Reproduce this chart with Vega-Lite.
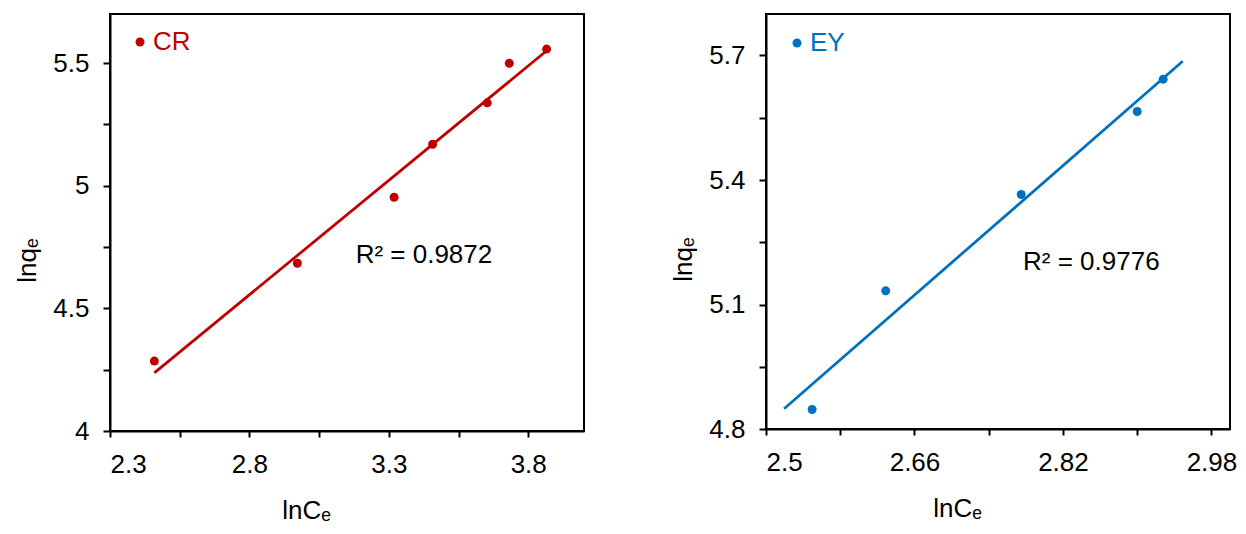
{
  "$schema": "https://vega.github.io/schema/vega-lite/v6.json",
  "background": "white",
  "padding": {"left": 13, "top": 13, "right": 5, "bottom": 5},
  "config": {
    "font": "Liberation Sans",
    "view": {"stroke": "black", "strokeWidth": 2},
    "axis": {
      "grid": false,
      "domainColor": "black",
      "domainWidth": 2,
      "tickColor": "black",
      "tickWidth": 2,
      "labelFont": "Liberation Sans",
      "labelFontSize": 26,
      "labelColor": "black",
      "titleFont": "Liberation Sans",
      "titleFontSize": 26,
      "titleFontWeight": "normal",
      "titleColor": "black"
    }
  },
  "datasets": {
    "cr": [
      {"x": 2.459, "y": 4.285, "series": "CR"},
      {"x": 2.972, "y": 4.684, "series": "CR"},
      {"x": 3.319, "y": 4.953, "series": "CR"},
      {"x": 3.457, "y": 5.169, "series": "CR"},
      {"x": 3.653, "y": 5.338, "series": "CR"},
      {"x": 3.732, "y": 5.499, "series": "CR"},
      {"x": 3.866, "y": 5.557, "series": "CR"}
    ],
    "crFit": [
      {"x": 2.459, "y": 4.237},
      {"x": 3.866, "y": 5.550}
    ],
    "crLabel": [
      {"x": 3.181, "y": 4.717, "label": "R² = 0.9872"}
    ],
    "ey": [
      {"x": 2.5497, "y": 4.847, "series": "EY"},
      {"x": 2.629, "y": 5.133, "series": "EY"},
      {"x": 2.775, "y": 5.365, "series": "EY"},
      {"x": 2.900, "y": 5.565, "series": "EY"},
      {"x": 2.928, "y": 5.643, "series": "EY"}
    ],
    "eyFit": [
      {"x": 2.5195, "y": 4.849},
      {"x": 2.949, "y": 5.686}
    ],
    "eyLabel": [
      {"x": 2.777, "y": 5.2025, "label": "R² = 0.9776"}
    ]
  },
  "hconcat": [
    {
      "width": 474,
      "height": 417,
      "encoding": {
        "x": {
          "field": "x", "type": "quantitative",
          "scale": {"domain": [2.3, 4.0], "nice": false, "zero": false},
          "axis": {
            "title": "lnCₑ",
            "values": [2.3, 2.55, 2.8, 3.05, 3.3, 3.55, 3.8],
            "labelExpr": "indexof([2.3, 2.8, 3.3, 3.8], datum.value) >= 0 ? format(datum.value, '~g') : ''",
            "tickSize": 6, "labelPadding": 14, "titlePadding": 20, "titleX": 196
          }
        },
        "y": {
          "field": "y", "type": "quantitative",
          "scale": {"domain": [4, 5.7], "nice": false, "zero": false},
          "axis": {
            "title": "lnqₑ",
            "values": [4, 4.25, 4.5, 4.75, 5, 5.25, 5.5],
            "labelExpr": "indexof([4, 4.5, 5, 5.5], datum.value) >= 0 ? format(datum.value, '~g') : ''",
            "tickSize": 7, "labelPadding": 14, "titlePadding": 12, "titleY": 246
          }
        }
      },
      "layer": [
        {
          "data": {"name": "crFit"},
          "mark": {"type": "line", "color": "#c00000", "strokeWidth": 2.75}
        },
        {
          "data": {"name": "cr"},
          "mark": {"type": "point", "filled": true, "size": 80, "opacity": 1},
          "encoding": {
            "color": {
              "field": "series", "type": "nominal",
              "scale": {"domain": ["CR"], "range": ["#c00000"]},
              "legend": {
                "title": null, "orient": "none", "legendX": 17, "legendY": 15,
                "labelFontSize": 26, "labelColor": "#c00000", "labelFont": "Liberation Sans",
                "symbolSize": 80, "labelOffset": 0, "padding": 0, "symbolStrokeWidth": 0
              }
            }
          }
        },
        {
          "data": {"name": "crLabel"},
          "mark": {"type": "text", "align": "left", "baseline": "middle", "fontSize": 26, "color": "black"},
          "encoding": {"text": {"field": "label"}}
        }
      ]
    },
    {
      "width": 464,
      "height": 415,
      "encoding": {
        "x": {
          "field": "x", "type": "quantitative",
          "scale": {"domain": [2.5, 3.0], "nice": false, "zero": false},
          "axis": {
            "title": "lnCₑ",
            "values": [2.5, 2.58, 2.66, 2.74, 2.82, 2.9, 2.98],
            "labelExpr": "indexof([2.5, 2.66, 2.82, 2.98], datum.value) >= 0 ? format(datum.value, '~g') : ''",
            "tickSize": 6, "labelPadding": 14, "titlePadding": 20, "titleX": 191
          }
        },
        "y": {
          "field": "y", "type": "quantitative",
          "scale": {"domain": [4.8, 5.8], "nice": false, "zero": false},
          "axis": {
            "title": "lnqₑ",
            "values": [4.8, 4.95, 5.1, 5.25, 5.4, 5.55, 5.7],
            "labelExpr": "indexof([4.8, 5.1, 5.4, 5.7], datum.value) >= 0 ? format(datum.value, '~g') : ''",
            "tickSize": 7, "labelPadding": 14, "titlePadding": 12, "titleY": 245
          }
        }
      },
      "layer": [
        {
          "data": {"name": "eyFit"},
          "mark": {"type": "line", "color": "#0070c0", "strokeWidth": 2.75}
        },
        {
          "data": {"name": "ey"},
          "mark": {"type": "point", "filled": true, "size": 80, "opacity": 1},
          "encoding": {
            "color": {
              "field": "series", "type": "nominal",
              "scale": {"domain": ["EY"], "range": ["#0070c0"]},
              "legend": {
                "title": null, "orient": "none", "legendX": 18, "legendY": 16,
                "labelFontSize": 26, "labelColor": "#0070c0", "labelFont": "Liberation Sans",
                "symbolSize": 80, "labelOffset": 0, "padding": 0, "symbolStrokeWidth": 0
              }
            }
          }
        },
        {
          "data": {"name": "eyLabel"},
          "mark": {"type": "text", "align": "left", "baseline": "middle", "fontSize": 26, "color": "black"},
          "encoding": {"text": {"field": "label"}}
        }
      ]
    }
  ],
  "spacing": 84,
  "resolve": {"scale": {"color": "independent"}, "legend": {"color": "independent"}}
}
